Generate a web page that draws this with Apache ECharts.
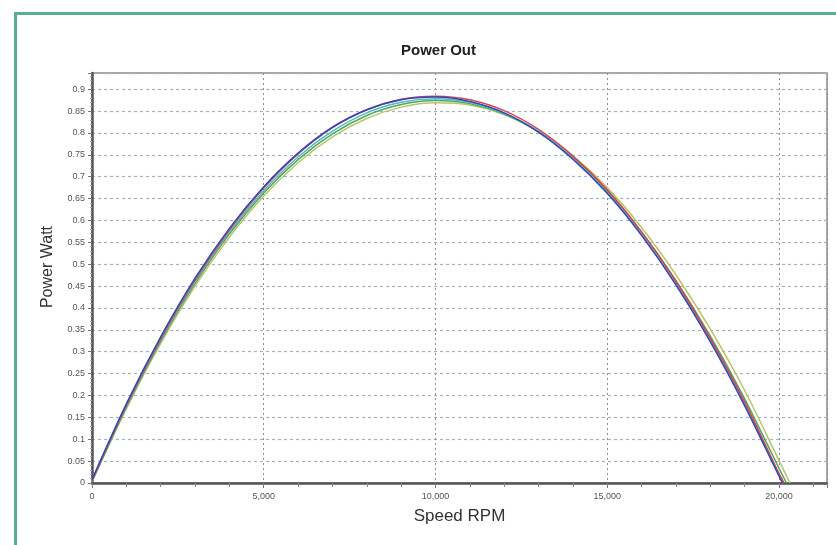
<!DOCTYPE html>
<html>
<head>
<meta charset="utf-8">
<script src="https://cdn.jsdelivr.net/npm/echarts@6/dist/echarts.min.js"></script>
<style>
  html, body { margin: 0; padding: 0; background: #fff; }
  #frame {
    position: absolute; left: 14px; top: 12px; width: 840px; height: 560px;
    border-top: 3px solid #5aae98; border-left: 3px solid #5aae98;
  }
  #chart { position: absolute; left: 0; top: 0; width: 836px; height: 545px; }
</style>
</head>
<body>
<div id="frame"></div>
<div id="chart"></div>
<script>
// speed (RPM) sample points shared by all curves
const rpm = [0, 1000, 2000, 3000, 4000, 5000, 6000, 7000, 8000, 9000, 10000,
  11000, 12000, 13000, 14000, 15000, 16000, 17000, 18000, 19000, 20000]

// power (W) for each curve
const redPower = [0.005, 0.178, 0.330, 0.464, 0.578, 0.674, 0.752, 0.812, 0.853, 0.877, 0.884,
  0.876, 0.851, 0.808, 0.747, 0.670, 0.574, 0.461, 0.331, 0.186, 0.022]
const bluePower = [0.008, 0.181, 0.334, 0.468, 0.582, 0.677, 0.754, 0.813, 0.853, 0.876, 0.882,
  0.872, 0.846, 0.802, 0.740, 0.662, 0.566, 0.453, 0.323, 0.177, 0.016]
const cyanPower = [0.006, 0.176, 0.328, 0.461, 0.574, 0.668, 0.745, 0.804, 0.846, 0.870, 0.878,
  0.870, 0.845, 0.803, 0.742, 0.664, 0.569, 0.456, 0.327, 0.182, 0.020]
const greenPower = [0.004, 0.173, 0.324, 0.456, 0.569, 0.663, 0.739, 0.798, 0.840, 0.865, 0.874,
  0.867, 0.843, 0.802, 0.743, 0.667, 0.574, 0.463, 0.336, 0.193, 0.034]
const olivePower = [0.003, 0.170, 0.319, 0.450, 0.562, 0.656, 0.732, 0.791, 0.833, 0.859, 0.869,
  0.864, 0.842, 0.804, 0.748, 0.675, 0.584, 0.476, 0.352, 0.212, 0.052]

// no-load speed where each curve reaches zero
const redEnd = 20150
const blueEnd = 20100
const cyanEnd = 20150
const greenEnd = 20220
const oliveEnd = 20320

const yTicks = 0.05
const xTicks = 5000

const toPoints = (vals, end) => rpm.map((r, i) => [r, vals[i]]).concat([[end, 0]])

const curve = (name, color, vals, end) => ({
  name: name,
  type: 'line',
  smooth: 0.3,
  symbol: 'none',
  lineStyle: { width: 1.5, color: color },
  data: toPoints(vals, end)
})

const chart = echarts.init(document.getElementById('chart'))

const option = {
  backgroundColor: 'transparent',
  animation: false,
  title: {
    text: 'Power Out',
    left: 396,
    top: 38,
    textStyle: { fontFamily: 'Liberation Sans, Arial', fontSize: 15, fontWeight: 'bold', color: '#222' }
  },
  grid: {
    left: 92, right: 9, top: 73, bottom: 62,
    show: true,
    borderColor: '#8a8a8a',
    borderWidth: 1.5
  },
  xAxis: {
    type: 'value',
    min: 0,
    max: 21400,
    interval: xTicks,
    name: 'Speed RPM',
    nameLocation: 'middle',
    nameGap: 25,
    nameTextStyle: { fontFamily: 'Liberation Sans, Arial', fontSize: 17, color: '#333' },
    axisLine: { lineStyle: { color: '#555', width: 2.5 } },
    axisTick: { show: true, length: 5, lineStyle: { color: '#777' } },
    minorTick: { show: true, splitNumber: 5, length: 4, lineStyle: { color: '#888' } },
    axisLabel: {
      fontFamily: 'Liberation Sans, Arial', fontSize: 9, color: '#555', margin: 9,
      formatter: v => (v % xTicks === 0 ? v.toLocaleString('en-US') : '')
    },
    splitLine: { show: true, lineStyle: { color: '#8a8f9a', type: [2, 3], width: 1 } }
  },
  yAxis: {
    type: 'value',
    min: 0,
    max: 0.937,
    interval: yTicks,
    name: 'Power Watt',
    nameLocation: 'middle',
    nameGap: 36,
    nameTextStyle: { fontFamily: 'Liberation Sans, Arial', fontSize: 16, color: '#333', padding: [0, 0, 0, 22] },
    axisLine: { lineStyle: { color: '#555', width: 2.5 } },
    axisTick: { show: true, length: 4, lineStyle: { color: '#777' } },
    minorTick: { show: true, splitNumber: 5, length: 2, lineStyle: { color: '#9fb4c8' } },
    axisLabel: {
      fontFamily: 'Liberation Sans, Arial', fontSize: 9, color: '#555', margin: 7,
      formatter: v => {
        const k = v / yTicks
        return Math.abs(k - Math.round(k)) < 1e-6 ? String(+v.toFixed(2)) : ''
      }
    },
    splitLine: { show: true, lineStyle: { color: '#9fb2c6', type: [3, 3], width: 1.2 } }
  },
  series: [
    curve('olive', '#b8c46a', olivePower, oliveEnd),
    curve('green', '#4ea85c', greenPower, greenEnd),
    curve('cyan', '#4fb9c9', cyanPower, cyanEnd),
    curve('red', '#d8434f', redPower, redEnd),
    curve('blue', '#3447b6', bluePower, blueEnd)
  ]
}

chart.setOption(option)
</script>
</body>
</html>
